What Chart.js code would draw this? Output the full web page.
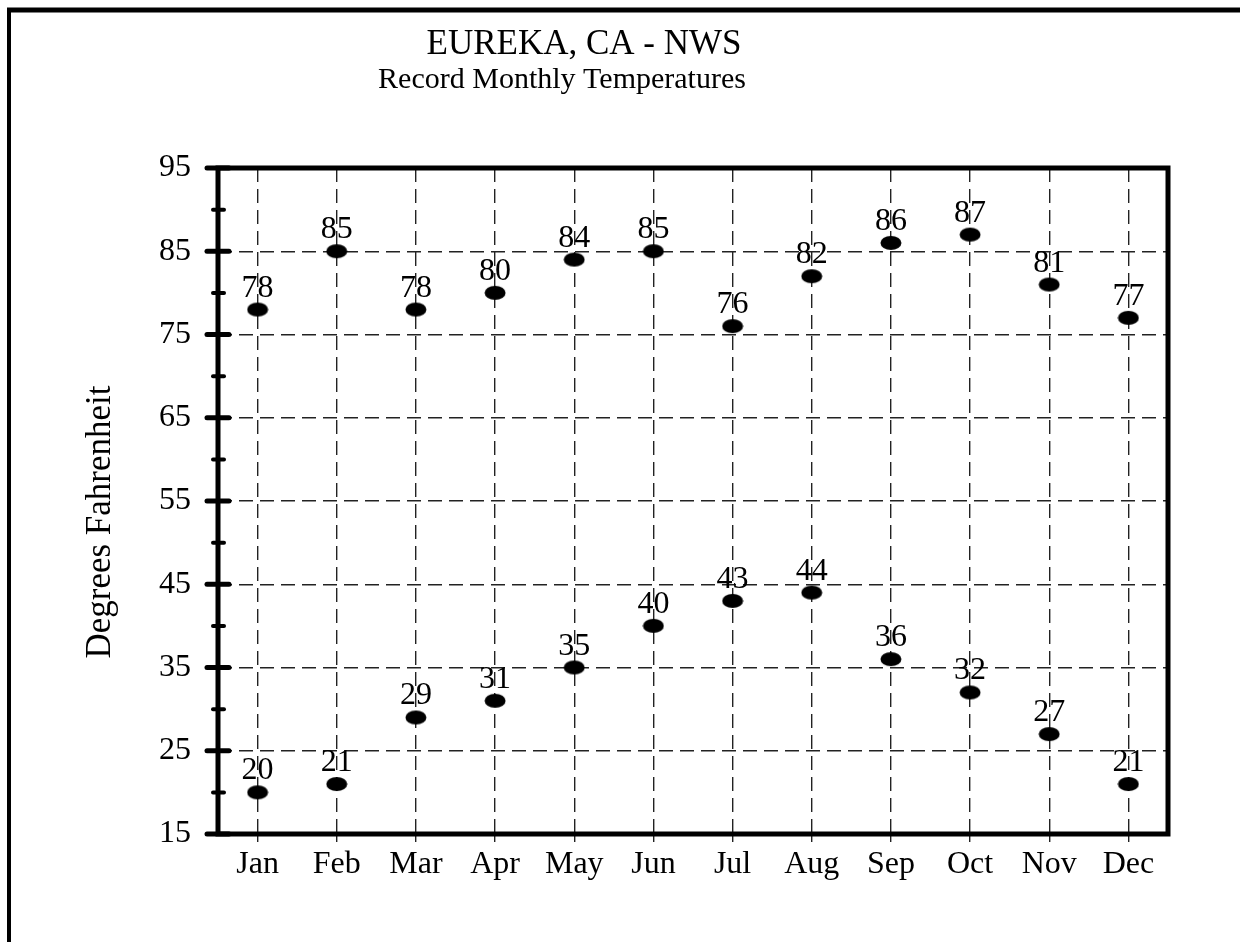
<!DOCTYPE html>
<html>
<head>
<meta charset="utf-8">
<script src="https://cdn.jsdelivr.net/npm/chart.js@4"></script>
<style>
  html, body { margin: 0; padding: 0; background: #fff; }
  canvas { display: block; }
</style>
</head>
<body>
<canvas id="tempChart" width="1240" height="942"></canvas>
<script>
const months = ["Jan", "Feb", "Mar", "Apr", "May", "Jun", "Jul", "Aug", "Sep", "Oct", "Nov", "Dec"];
const recordHighs = [78, 85, 78, 80, 84, 85, 76, 82, 86, 87, 81, 77];
const recordLows = [20, 21, 29, 31, 35, 40, 43, 44, 36, 32, 27, 21];
const yMin = 15, yMax = 95;

const serif = "'Liberation Serif', 'DejaVu Serif', serif";

// black oval marker like the old plot
function makeDot() {
  const c = document.createElement("canvas");
  c.width = 22; c.height = 16;
  const g = c.getContext("2d");
  g.fillStyle = "#000";
  g.beginPath();
  g.ellipse(11, 8, 10.5, 7, 0, 0, Math.PI * 2);
  g.fill();
  return c;
}
const dot = makeDot();

// frame, titles, axis ticks and value labels
const decorations = {
  id: "decorations",
  afterDraw(chart) {
    const ctx = chart.ctx;
    const area = chart.chartArea;
    const y = chart.scales.y;
    ctx.save();

    // page frame (top + left)
    ctx.strokeStyle = "#000";
    ctx.lineWidth = 5;
    ctx.beginPath();
    ctx.moveTo(7, 10); ctx.lineTo(1240, 10);
    ctx.stroke();
    ctx.lineWidth = 4;
    ctx.beginPath();
    ctx.moveTo(9, 8); ctx.lineTo(9, 942);
    ctx.stroke();

    // plot box
    ctx.lineWidth = 5;
    ctx.strokeRect(area.left, area.top, area.right - area.left, area.bottom - area.top);

    // y tick marks across the axis
    ctx.lineCap = "round";
    for (let v = yMin; v <= yMax; v += 5) {
      const py = y.getPixelForValue(v);
      const major = (v - yMin) % 10 === 0;
      ctx.lineWidth = major ? 5 : 4;
      ctx.beginPath();
      ctx.moveTo(area.left - (major ? 11 : 5), py);
      ctx.lineTo(area.left + (major ? 11 : 6), py);
      ctx.stroke();
    }

    // titles
    ctx.fillStyle = "#000";
    ctx.textAlign = "center";
    ctx.textBaseline = "alphabetic";
    ctx.font = "35px " + serif;
    ctx.fillText("EUREKA, CA - NWS", 584, 54);
    ctx.font = "30px " + serif;
    ctx.fillText("Record Monthly Temperatures", 562, 88);

    // y axis title
    ctx.save();
    ctx.translate(110, 522);
    ctx.rotate(-Math.PI / 2);
    ctx.font = "35px " + serif;
    ctx.fillText("Degrees Fahrenheit", 0, 0);
    ctx.restore();

    // value labels above each dot
    ctx.font = "32px " + serif;
    chart.data.datasets.forEach((ds, i) => {
      chart.getDatasetMeta(i).data.forEach((pt, j) => {
        ctx.fillText(String(ds.data[j]), pt.x, pt.y - 13);
      });
    });

    ctx.restore();
  }
};

const dash = [14, 7];

new Chart(document.getElementById("tempChart"), {
  type: "line",
  data: {
    labels: months,
    datasets: [
      { label: "Record High", data: recordHighs },
      { label: "Record Low", data: recordLows }
    ].map(d => Object.assign(d, {
      showLine: false,
      pointStyle: dot,
      pointRadius: 10,
      pointHoverRadius: 10,
      backgroundColor: "#000",
      borderColor: "#000"
    }))
  },
  options: {
    responsive: false,
    animation: false,
    events: [],
    layout: { padding: { top: 168, right: 72, left: 0, bottom: 0 } },
    plugins: {
      legend: { display: false },
      tooltip: { enabled: false }
    },
    scales: {
      x: {
        type: "category",
        offset: true,
        grid: {
          offset: false,
          color: "#222",
          lineWidth: 1.4,
          drawTicks: true,
          tickLength: 10,
          tickColor: "#222",
          tickWidth: 1.4,
          tickBorderDash: [8, 4]
        },
        border: { display: false, dash: dash },
        ticks: {
          color: "#000",
          font: { family: serif, size: 32 },
          padding: 1,
          maxRotation: 0,
          autoSkip: false
        },
        afterFit(scale) { scale.height = 108; }
      },
      y: {
        min: yMin,
        max: yMax,
        grid: {
          color: "#222",
          lineWidth: 1.4,
          drawTicks: false
        },
        border: { display: false, dash: dash },
        ticks: {
          stepSize: 10,
          color: "#000",
          font: { family: serif, size: 32 },
          padding: 27
        },
        afterFit(scale) { scale.width = 218; }
      }
    }
  },
  plugins: [decorations]
});
</script>
</body>
</html>
